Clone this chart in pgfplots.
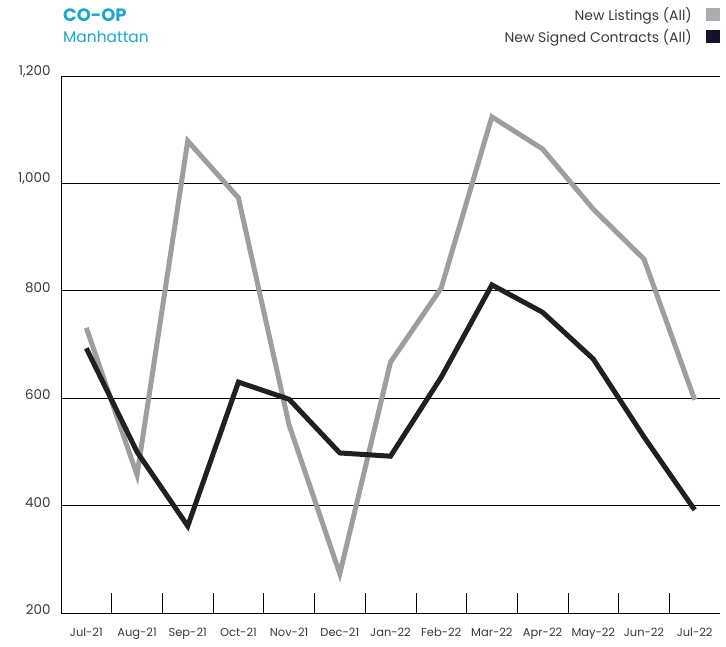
\documentclass[border=0pt]{standalone}
\usepackage{pgfplots}
\pgfplotsset{compat=1.18}
\usepackage{fontspec}
\setmainfont{Poppins}
\definecolor{cyanT}{HTML}{1AA8CB}
\definecolor{grayL}{HTML}{9E9EA2}
\definecolor{darkL}{HTML}{231F20}
\definecolor{legGray}{HTML}{ACACB0}
\definecolor{legDark}{HTML}{12122A}
\definecolor{txt}{HTML}{3A3A3A}
\begin{document}
\begin{tikzpicture}
\path[use as bounding box] (0,0) rectangle (726bp,647bp);
\begin{axis}[
  at={(61bp,34bp)}, anchor=south west,
  scale only axis, width=659bp, height=537bp,
  xmin=-0.5, xmax=12.5, ymin=200, ymax=1200,
  axis x line*=bottom, axis y line*=left,
  axis line style={black, line width=0.8bp, -},
  xtick={0,...,12},
  xticklabels={Jul-21,Aug-21,Sep-21,Oct-21,Nov-21,Dec-21,Jan-22,Feb-22,Mar-22,Apr-22,May-22,Jun-22,Jul-22},
  minor xtick={0.5,1.5,...,11.5},
  ytick={200,400,...,1200},
  yticklabels={200,400,600,800,{1,000},{1,200}},
  major tick length=0pt, minor tick length=20bp, tick align=inside,
  minor tick style={black, line width=0.6bp},
  ymajorgrids, grid style={black, line width=0.6bp},
  xticklabel style={yshift=-12bp, font=\fontsize{11.5}{13}\selectfont, text=txt},
  yticklabel style={anchor=south east, xshift=-7bp, yshift=-5bp, font=\fontsize{13.5}{15}\selectfont, text=txt},
  legend plot pos=right,
  legend cell align=right,
  legend style={draw=none, fill=none, at={(1.0,1.056)}, anchor=south east,
    font=\fontsize{14}{16}\selectfont, text=txt, row sep=3bp, inner sep=0pt},
  legend image code/.code={\path (0bp,0bp); \fill[#1] (12bp,-6.5bp) rectangle (26bp,6.5bp);},
]
\addlegendimage{fill=legGray, draw=none}
\addlegendentry{New Listings (All)}
\addlegendimage{fill=legDark, draw=none}
\addlegendentry{New Signed Contracts (All)}
\addplot[grayL, line width=5bp, forget plot] coordinates {
(0,731) (1,457) (2,1079) (3,973) (4,550) (5,273) (6,667) (7,805) (8,1124) (9,1064) (10,952) (11,859) (12,597)};
\addplot[darkL, line width=5bp, forget plot] coordinates {
(0,693) (1,500) (2,362) (3,630) (4,598) (5,498) (6,492) (7,639) (8,811) (9,760) (10,673) (11,528) (12,392)};
\end{axis}
\node[anchor=base west, inner sep=0pt, text=cyanT, font=\fontsize{18}{20}\selectfont\bfseries] at (63bp,625bp) {CO-OP};
\node[anchor=base west, inner sep=0pt, text=cyanT, font=\fontsize{15.5}{17}\selectfont] at (63bp,604bp) {Manhattan};
\end{tikzpicture}
\end{document}
